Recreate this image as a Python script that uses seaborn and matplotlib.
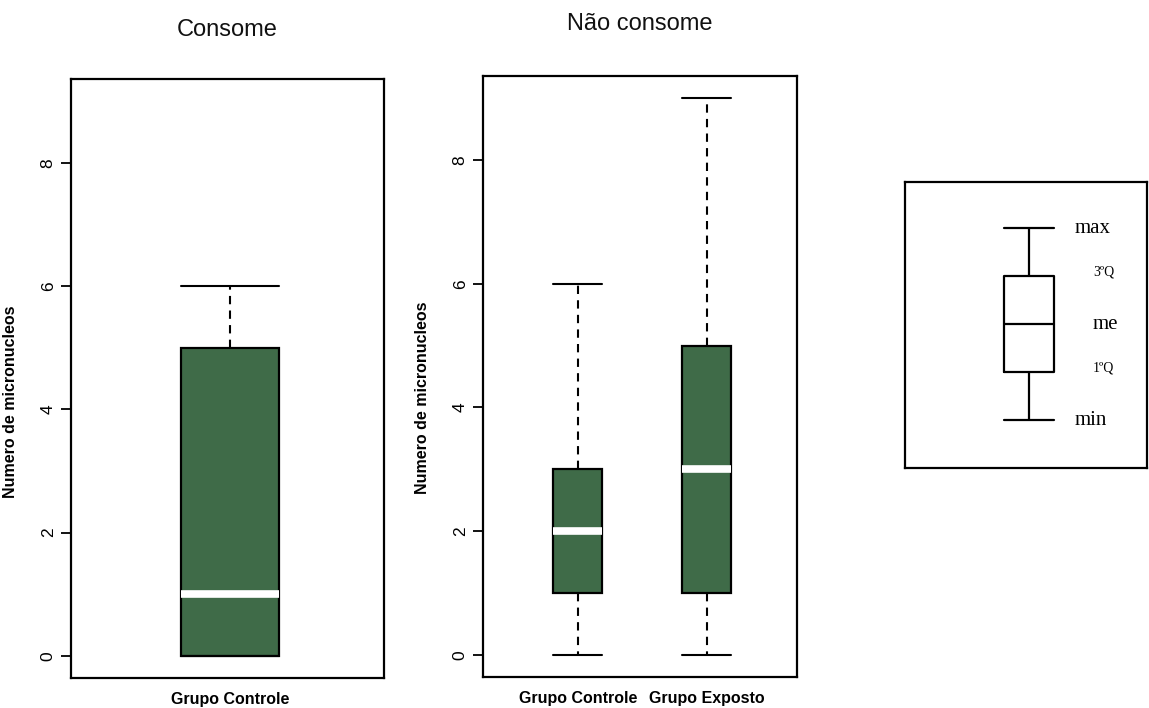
import matplotlib
matplotlib.use("Agg")
import matplotlib.pyplot as plt
import seaborn as sns
import pandas as pd

# Five-number summaries (min, Q1, median, Q3, max) of micronucleus counts
consome_groups = ["Grupo Controle"]
consome_controle = [0, 0, 1, 5, 6]

nao_consome_groups = ["Grupo Controle", "Grupo Exposto"]
nao_controle = [0, 1, 2, 3, 6]
nao_exposto = [0, 1, 3, 5, 9]

# Schematic key: positions of min, 1ºQ, me, 3ºQ, max
key_values = [1, 2, 3, 4, 5]
key_labels = ["min", "1ºQ", "me", "3ºQ", "max"]

y_ticks = [0, 2, 4, 6, 8]
panel_titles = ["Consome", "Não consome"]
y_label = "Numero de micronucleos"

sns.set_theme(style="white")
plt.rcParams["font.family"] = ["Liberation Sans", "DejaVu Sans"]
plt.rcParams["text.color"] = "black"
plt.rcParams["axes.labelcolor"] = "black"
plt.rcParams["xtick.color"] = "black"
plt.rcParams["ytick.color"] = "black"

GREEN = "#3f6b48"
W, H = 1149, 708
fig = plt.figure(figsize=(W / 100, H / 100), dpi=100)


def frac(x0, y0, x1, y1):
    return [x0 / W, 1 - y1 / H, (x1 - x0) / W, (y1 - y0) / H]


box_kw = dict(
    whis=(0, 100),
    linecolor="black",
    linewidth=1.6,
    showfliers=False,
    medianprops=dict(color="white", linewidth=5.5),
    whiskerprops=dict(color="black", linewidth=1.5, linestyle=(0, (4, 3))),
    capprops=dict(color="black", linewidth=1.5),
    boxprops=dict(edgecolor="black", linewidth=1.6),
)


def style_panel(ax, title, title_pad):
    ax.set_ylim(-0.36, 9.36)
    ax.set_yticks(y_ticks)
    ax.set_yticklabels([str(t) for t in y_ticks], rotation=90, va="center")
    ax.tick_params(axis="y", length=7, width=1.3, pad=4, left=True,
                   colors="black", labelsize=12.5)
    ax.tick_params(axis="x", length=0, pad=10, colors="black")
    for lbl in ax.get_xticklabels():
        lbl.set_fontweight("bold")
        lbl.set_fontsize(11.5)
        lbl.set_color("black")
    for s in ax.spines.values():
        s.set_visible(True)
        s.set_color("black")
        s.set_linewidth(1.6)
    ax.set_xlabel("")
    ax.set_ylabel(y_label, fontsize=11.5, fontweight="bold", color="black")
    ax.yaxis.set_label_coords(-0.169, 0.462)
    ax.set_title(title, fontsize=17, pad=title_pad, color="#111111")


# Left panel: Consome
ax1 = fig.add_axes(frac(71, 79, 384, 678))
df1 = pd.DataFrame({"grupo": [consome_groups[0]] * len(consome_controle),
                    "valor": consome_controle})
caps1 = 0.31
sns.boxplot(data=df1, x="grupo", y="valor", ax=ax1, width=caps1,
            color=GREEN, saturation=1, capwidths=caps1, **box_kw)
ax1.set_xlim(-0.508, 0.492)
style_panel(ax1, panel_titles[0], 31)

# Right panel: Não consome
ax2 = fig.add_axes(frac(483, 76, 797, 677))
df2 = pd.DataFrame({
    "grupo": [nao_consome_groups[0]] * len(nao_controle)
    + [nao_consome_groups[1]] * len(nao_exposto),
    "valor": nao_controle + nao_exposto,
})
caps2 = 0.38
sns.boxplot(data=df2, x="grupo", y="valor", ax=ax2, width=caps2,
            color=GREEN, saturation=1, capwidths=caps2,
            order=nao_consome_groups, **box_kw)
ax2.set_xlim(-0.736, 1.70)
style_panel(ax2, panel_titles[1], 33)
ax2.yaxis.set_label_coords(-0.169, 0.464)

# Key panel explaining the box elements
ax3 = fig.add_axes(frac(905, 182, 1147, 468))
dfk = pd.DataFrame({"k": ["k"] * len(key_values), "v": key_values})
sns.boxplot(data=dfk, x="k", y="v", ax=ax3, width=0.207, whis=(0, 100),
            fill=False, color="black", linecolor="black", linewidth=1.6,
            capwidths=0.207, showfliers=False,
            boxprops=dict(color="black", linewidth=1.6),
            medianprops=dict(color="black", linewidth=1.6),
            whiskerprops=dict(color="black", linewidth=1.6, linestyle="-"),
            capprops=dict(color="black", linewidth=1.6))
ax3.set_xlim(-0.512, 0.488)
ax3.set_ylim(0, 5.96)
ax3.set_xticks([])
ax3.set_yticks([])
ax3.set_xlabel("")
ax3.set_ylabel("")
for s in ax3.spines.values():
    s.set_visible(True)
    s.set_color("black")
    s.set_linewidth(1.6)

serif = ["Liberation Serif", "DejaVu Serif"]
for v, lab in zip(key_values, key_labels):
    big = lab in ("min", "me", "max")
    xoff = 0.19 if lab in ("min", "max") else 0.264
    yoff = 0 if big else 0.08
    ax3.text(xoff, v + yoff, lab, ha="left", va="center",
             fontsize=15 if big else 10, family=serif, color="black")

fig.savefig("out.png", dpi=100)
